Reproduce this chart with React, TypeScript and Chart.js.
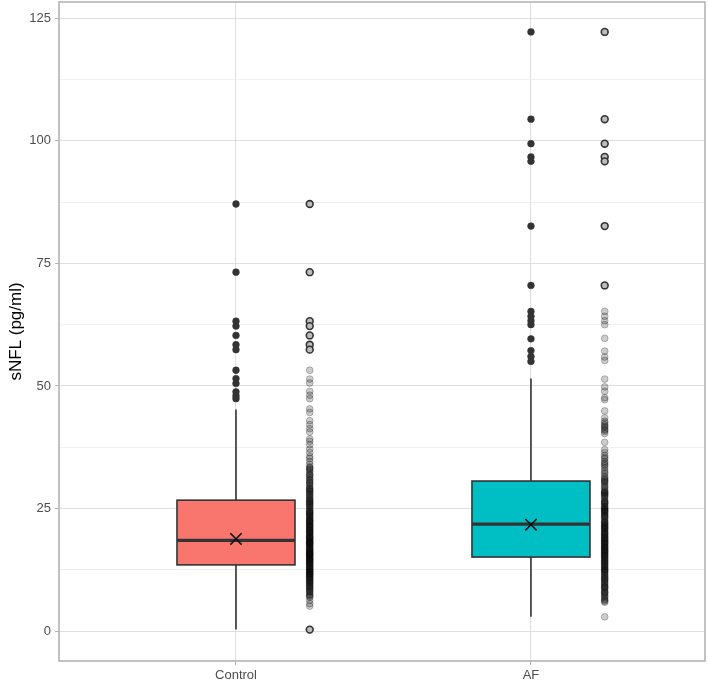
import React, { useEffect, useRef } from "react";
import { Chart, registerables } from "chart.js";

Chart.register(...registerables);

// ---------- data ----------
const categories = ["Control", "AF"];
const boxFill = ["#F8766D", "#00BFC4"];

const whiskerLow = [0.3, 2.9];
const q1 = [13.5, 15.1];
const median = [18.5, 21.8];
const q3 = [26.7, 30.6];
const whiskerHigh = [45.2, 51.5];
const means = [18.8, 21.7];

const outliersControl = [87.1, 73.2, 63.2, 62.2, 60.3, 58.4, 57.4, 53.2, 51.5, 50.5, 48.8, 48.0, 47.4];
const outliersAF = [122.2, 104.4, 99.4, 96.7, 95.8, 82.6, 70.5, 65.2, 64.2, 63.3, 62.5, 59.6, 57.2, 56.0, 55.0];

const stripMarkedControl = [87.1, 73.2, 63.2, 62.2, 60.3, 58.4, 57.4, 0.3];
const stripMarkedAF = [122.2, 104.4, 99.4, 96.7, 95.8, 82.6, 70.5];

const stripControl = [
  53.2, 51.4, 50.6, 48.9, 48.1, 47.4, 45.3, 44.6, 42.9, 42.1, 41.3, 40.6, 39.2, 38.7, 38.0, 37.1,
  36.4, 35.6, 35.2, 34.6, 34.0, 33.5, 33.1, 32.6, 32.2, 31.8, 31.2, 30.9, 30.4, 30.0, 29.7, 29.1,
  28.8, 28.5, 28.0, 27.6, 27.3, 26.9, 26.5, 26.2, 25.9, 25.5, 25.1, 24.8, 24.4, 24.1, 23.9, 23.5,
  23.2, 22.8, 22.6, 22.3, 21.9, 21.7, 21.4, 21.1, 20.8, 20.6, 20.2, 20.0, 19.7, 19.5, 19.2, 18.9,
  18.7, 18.4, 18.2, 17.9, 17.7, 17.4, 17.1, 16.9, 16.6, 16.4, 16.1, 15.9, 15.6, 15.4, 15.1, 14.9,
  14.6, 14.3, 14.1, 13.8, 13.6, 13.3, 13.0, 12.8, 12.5, 12.2, 12.0, 11.7, 11.4, 11.2, 10.9, 10.6,
  10.3, 10.0, 9.7, 9.3, 9.0, 8.6, 8.2, 7.8, 7.3, 6.9, 6.3, 5.6, 5.1,
  24.0, 22.1, 20.4, 19.0, 18.1, 17.2, 16.0, 15.0, 14.4, 13.5, 12.6, 11.8, 10.8, 9.9, 8.8, 26.0,
  27.1, 28.2, 29.4, 21.5, 23.0, 19.8, 16.8, 14.0, 12.3, 30.7, 31.5, 32.9, 25.3, 18.6, 15.3, 11.1,
  7.5, 8.4, 9.5, 10.1, 11.5, 12.9, 13.9, 14.7, 15.8, 16.3, 17.5, 18.3, 19.3, 20.1, 20.9, 21.8,
  22.5, 23.3, 24.3, 25.7, 26.7, 27.8, 29.0, 30.2, 31.9, 33.3, 7.1, 9.1, 10.5, 12.1, 13.2, 14.5,
  15.5, 16.5, 17.8, 19.1, 20.5, 22.4, 24.6, 26.4, 28.6, 8.0, 11.6, 15.7, 18.0, 21.2, 23.7,
];

const stripAF = [
  65.2, 64.2, 63.3, 62.5, 59.7, 57.1, 55.9, 55.2, 51.4, 49.8, 48.9, 47.6, 47.2, 44.9, 43.5, 42.8,
  42.1, 41.6, 41.0, 40.3, 38.5, 36.4, 35.8, 35.1, 34.6, 34.0, 33.3, 32.8, 32.1, 31.6, 31.0, 30.6,
  30.2, 29.8, 29.3, 28.9, 28.4, 28.0, 27.6, 27.1, 26.7, 26.3, 25.9, 25.5, 25.2, 24.8, 24.4, 24.1,
  23.7, 23.4, 23.0, 22.7, 22.4, 22.1, 21.8, 21.5, 21.2, 20.9, 20.6, 20.3, 20.0, 19.7, 19.4, 19.1,
  18.8, 18.5, 18.2, 17.9, 17.6, 17.3, 17.0, 16.7, 16.4, 16.1, 15.8, 15.5, 15.2, 14.9, 14.5, 14.2,
  13.9, 13.5, 13.2, 12.8, 12.4, 12.0, 11.6, 11.2, 10.8, 10.3, 9.9, 9.4, 8.9, 8.4, 7.9, 7.3, 6.8,
  6.3, 5.9, 2.9,
  30.4, 28.6, 26.0, 24.6, 23.2, 22.0, 20.8, 19.9, 18.0, 17.1, 16.0, 15.0, 13.7, 12.2, 10.6, 9.1,
  7.6, 6.5, 42.5, 41.2, 37.0, 33.7, 27.8, 25.0, 21.0, 18.6, 16.9, 14.0, 11.9, 8.1,
  7.1, 8.7, 9.6, 10.5, 11.4, 12.6, 13.4, 14.7, 15.6, 16.5, 17.4, 18.3, 19.2, 20.2, 21.3, 22.3,
  23.5, 24.3, 25.4, 26.5, 27.4, 28.3, 29.5, 30.8, 32.4, 34.3, 35.4, 41.8, 40.7, 9.0, 11.0, 13.0,
  15.4, 17.8, 19.6, 21.6, 23.9, 26.2, 28.1, 31.3, 6.1, 7.8, 10.0, 12.5, 14.4, 16.3, 18.9, 24.7,
];

const yTickValues = [0, 12.5, 25, 37.5, 50, 62.5, 75, 87.5, 100, 112.5, 125];
const yMin = -6.1;
const yMax = 128.3;
const xMin = 0.4;
const xMax = 2.59;
const stripOffset = 0.25;
const boxHalfWidth = 0.2;
const yTitle = "sNFL (pg/ml)";

const toPts = (vals: number[], x: number) => vals.map((v) => ({ x, y: v }));

const zeroPad = (scale: any) => {
  scale.paddingTop = 0;
  scale.paddingBottom = 0;
  scale.paddingLeft = 0;
  scale.paddingRight = 0;
};

const boxPlugin = {
  id: "boxes",
  beforeDatasetsDraw(chart: any) {
    const { ctx, scales } = chart;
    const xs = scales.x;
    const ys = scales.y;
    categories.forEach((_, i) => {
      const cx = i + 1;
      const xl = xs.getPixelForValue(cx - boxHalfWidth);
      const xr = xs.getPixelForValue(cx + boxHalfWidth);
      const xc = xs.getPixelForValue(cx);
      const yq1 = ys.getPixelForValue(q1[i]);
      const yq3 = ys.getPixelForValue(q3[i]);
      const ymed = ys.getPixelForValue(median[i]);
      const ylo = ys.getPixelForValue(whiskerLow[i]);
      const yhi = ys.getPixelForValue(whiskerHigh[i]);
      ctx.save();
      ctx.strokeStyle = "#333333";
      ctx.lineWidth = 1.6;
      ctx.beginPath();
      ctx.moveTo(xc, yq3);
      ctx.lineTo(xc, yhi);
      ctx.moveTo(xc, yq1);
      ctx.lineTo(xc, ylo);
      ctx.stroke();
      ctx.fillStyle = boxFill[i];
      ctx.fillRect(xl, yq3, xr - xl, yq1 - yq3);
      ctx.strokeRect(xl, yq3, xr - xl, yq1 - yq3);
      ctx.lineWidth = 3.2;
      ctx.beginPath();
      ctx.moveTo(xl, ymed);
      ctx.lineTo(xr, ymed);
      ctx.stroke();
      ctx.restore();
    });
  },
  afterDatasetsDraw(chart: any) {
    const { ctx, chartArea } = chart;
    ctx.save();
    ctx.strokeStyle = "#b3b3b3";
    ctx.lineWidth = 1.6;
    ctx.strokeRect(chartArea.left, chartArea.top, chartArea.right - chartArea.left, chartArea.bottom - chartArea.top);
    ctx.restore();
  },
};

export default function App() {
  const ref = useRef<HTMLCanvasElement | null>(null);
  useEffect(() => {
    if (!ref.current) return;
    Chart.defaults.font.family = "'Liberation Sans', Arial, sans-serif";
    const chart = new Chart(ref.current, {
      type: "scatter",
      data: {
        datasets: [
          {
            label: "mean",
            data: means.map((m, i) => ({ x: i + 1, y: m })),
            pointStyle: "crossRot",
            pointRadius: 8,
            borderColor: "#111111",
            borderWidth: 1.6,
            backgroundColor: "#111111",
          },
          {
            label: "strip marked",
            data: [...toPts(stripMarkedControl, 1 + stripOffset), ...toPts(stripMarkedAF, 2 + stripOffset)],
            pointRadius: 3.4,
            backgroundColor: "#bdbdbd",
            borderColor: "#333333",
            borderWidth: 1.6,
          },
          {
            label: "strip",
            data: [...toPts(stripControl, 1 + stripOffset), ...toPts(stripAF, 2 + stripOffset)],
            pointRadius: 3.4,
            backgroundColor: "rgba(0,0,0,0.2)",
            borderColor: "rgba(0,0,0,0.24)",
            borderWidth: 1,
          },
          {
            label: "outliers",
            data: [...toPts(outliersControl, 1), ...toPts(outliersAF, 2)],
            pointRadius: 3.4,
            backgroundColor: "#333333",
            borderColor: "#333333",
            borderWidth: 0.5,
          },
        ],
      },
      options: {
        animation: false,
        responsive: true,
        maintainAspectRatio: false,
        layout: { autoPadding: false, padding: { left: 0, top: 2, right: 4, bottom: 0 } },
        plugins: { legend: { display: false }, tooltip: { enabled: false } },
        scales: {
          x: {
            type: "linear",
            min: xMin,
            max: xMax,
            afterBuildTicks: (scale: any) => {
              scale.ticks = categories.map((_, i) => ({ value: i + 1 }));
            },
            afterFit: (scale: any) => {
              scale.height = 25;
              zeroPad(scale);
            },
            border: { display: false },
            grid: { color: "#dedede", lineWidth: 1, tickColor: "#b3b3b3", tickLength: 4 },
            ticks: {
              color: "#4d4d4d",
              font: { size: 13 },
              padding: 3,
              autoSkip: false,
              maxRotation: 0,
              callback: (v: any) => categories[Math.round(Number(v)) - 1] ?? "",
            },
          },
          y: {
            type: "linear",
            min: yMin,
            max: yMax,
            afterBuildTicks: (scale: any) => {
              scale.ticks = yTickValues.map((v) => ({ value: v }));
            },
            afterFit: (scale: any) => {
              scale.width = 59;
              zeroPad(scale);
            },
            border: { display: false },
            grid: {
              color: (c: any) => (c.tick && c.tick.value % 25 === 0 ? "#dedede" : "#ececec"),
              lineWidth: (c: any) => (c.tick && c.tick.value % 25 === 0 ? 1 : 0.8),
              tickColor: (c: any) => (c.tick && c.tick.value % 25 === 0 ? "#b3b3b3" : "rgba(0,0,0,0)"),
              tickLength: 4,
            },
            ticks: {
              color: "#4d4d4d",
              font: { size: 13 },
              padding: 4,
              autoSkip: false,
              callback: (v: any) => (Number(v) % 25 === 0 ? String(v) : ""),
            },
            title: {
              display: true,
              text: yTitle,
              color: "#000000",
              font: { size: 17 },
              padding: { top: 6, bottom: 0 },
            },
          },
        },
      },
      plugins: [boxPlugin],
    } as any);
    return () => chart.destroy();
  }, []);
  return (
    <div style={{ position: "absolute", left: 0, top: 0, width: 709, height: 686 }}>
      <canvas ref={ref} />
    </div>
  );
}
